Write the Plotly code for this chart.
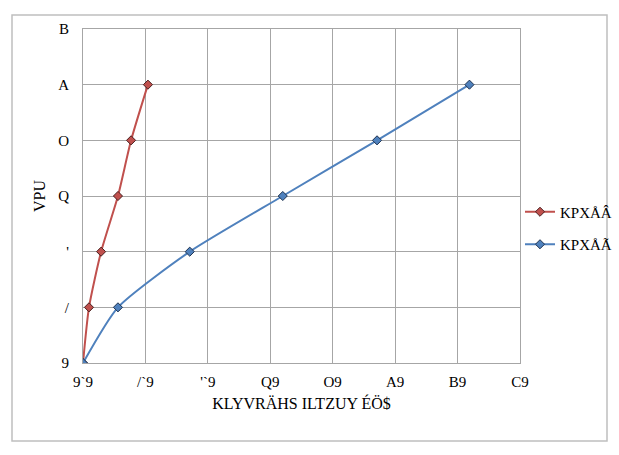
import plotly.graph_objects as go

# Data
red_x = [0.0, 0.0096, 0.029, 0.056, 0.077, 0.104]
red_y = [0, 1, 2, 3, 4, 5]
blue_x = [0.0, 0.056, 0.171, 0.32, 0.471, 0.619]
blue_y = [0, 1, 2, 3, 4, 5]

x_tickvals = [0, 0.1, 0.2, 0.3, 0.4, 0.5, 0.6, 0.7]
x_ticktext = ["9`9", "/`9", "'`9", "Q9", "O9", "A9", "B9", "C9"]
y_tickvals = [0, 1, 2, 3, 4, 5, 6]
y_ticktext = ["9", "/", "'", "Q", "O", "A", "B"]

red_name = "KPXÅÂ"
blue_name = "KPXÅÃ"
x_title = "KLYVRÄHS ILTZUY ÉÖ$"
y_title = "VPU"

FONT = "Liberation Serif"
RED = "#c0504d"
BLUE = "#4f81bd"
GRID = "#a6a6a6"

fig = go.Figure()
fig.add_trace(go.Scatter(
    x=red_x, y=red_y, name=red_name, mode="lines+markers", legendgroup="a",
    line=dict(color=RED, width=2, shape="spline", smoothing=0.6),
    marker=dict(symbol="diamond", size=7, color=RED, line=dict(color="#4a2020", width=1)),
))
fig.add_trace(go.Scatter(
    x=blue_x, y=blue_y, name=blue_name, mode="lines+markers", legendgroup="b",
    line=dict(color=BLUE, width=2, shape="spline", smoothing=0.6),
    marker=dict(symbol="diamond", size=7, color=BLUE, line=dict(color="#1f3350", width=1)),
))

L, R, T, B = 83, 99, 29, 92
PW, PH = 619 - L - R, 455 - T - B

fig.update_layout(
    width=619, height=455,
    margin=dict(l=L, r=R, t=T, b=B, autoexpand=False),
    paper_bgcolor="white", plot_bgcolor="white",
    font=dict(family=FONT, size=15, color="black"),
    showlegend=True,
    legend=dict(x=1.0, xanchor="left", y=(363 - 228) / PH, yanchor="middle",
                font=dict(family=FONT, size=15), bgcolor="rgba(0,0,0,0)",
                tracegroupgap=10, itemwidth=30),
    shapes=[dict(type="rect", xref="paper", yref="paper",
                 x0=(12 - L) / PW, x1=(607 - L) / PW,
                 y0=(363 - 441) / PH, y1=(363 - 15) / PH,
                 line=dict(color="#bfbfbf", width=1.5), layer="below")],
)
fig.update_xaxes(
    range=[0, 0.7], tickvals=x_tickvals, ticktext=x_ticktext,
    showgrid=True, gridcolor=GRID, gridwidth=1,
    showline=True, linecolor=GRID, mirror=True, zeroline=False,
    ticks="outside", ticklen=5, tickcolor="rgba(0,0,0,0)",
    tickfont=dict(family=FONT, size=15),
    title=dict(text=x_title, font=dict(family=FONT, size=16), standoff=8),
)
fig.update_yaxes(
    range=[0, 6], tickvals=y_tickvals, ticktext=y_ticktext,
    showgrid=True, gridcolor=GRID, gridwidth=1,
    showline=True, linecolor=GRID, mirror=True, zeroline=False,
    ticks="outside", ticklen=10, tickcolor="rgba(0,0,0,0)",
    tickfont=dict(family=FONT, size=15),
    title=dict(text=y_title, font=dict(family=FONT, size=16), standoff=8),
)

fig.write_html("out.html")
